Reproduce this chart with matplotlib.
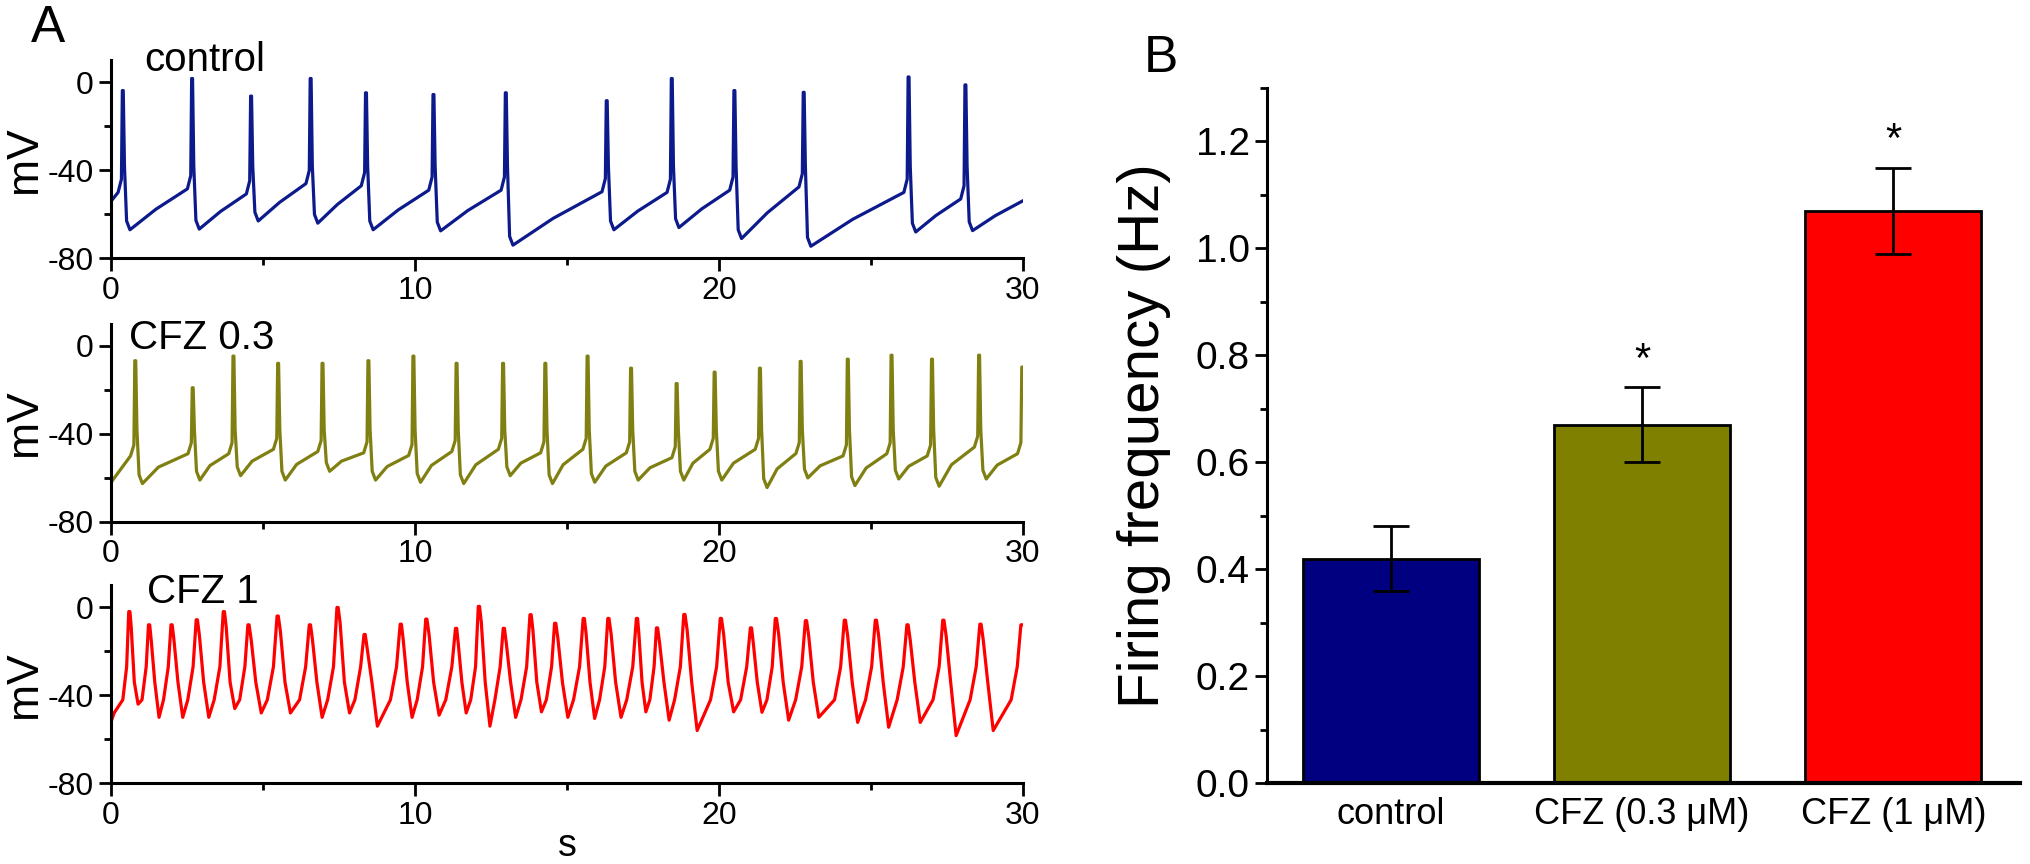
import numpy as np
import matplotlib
matplotlib.use("Agg")
import matplotlib.pyplot as plt
from matplotlib.ticker import MultipleLocator

plt.rcParams['font.family'] = ['Liberation Sans', 'DejaVu Sans']
plt.rcParams['axes.unicode_minus'] = False

# ---- panel A: membrane potential traces ----
# control: spike times (s), spike peaks, trough after each spike, base level before each spike (mV)
ctrl_t = [0.38, 2.66, 4.6, 6.56, 8.38, 10.6, 12.98, 16.3, 18.44, 20.5, 22.78, 26.23, 28.1]
ctrl_peak = [-3.7, 1.8, -6.2, 1.8, -4.7, -5.5, -4.7, -8.3, 1.8, -3.7, -4.5, 2.5, -1.1]
ctrl_trough = [-67, -66.7, -63, -64, -67, -67.5, -74, -67, -66, -71, -74.5, -68, -67.4]
ctrl_base = [-50, -48.4, -50.7, -46, -47, -49, -49, -49.7, -50, -49, -47.5, -50, -53]
ctrl_start, ctrl_end = -54, -53.8

# CFZ 0.3 uM
c03_t = [0.79, 2.68, 4.02, 5.49, 6.95, 8.46, 9.94, 11.36, 12.89, 14.28, 15.67,
         17.1, 18.6, 19.85, 21.34, 22.68, 24.23, 25.67, 27.0, 28.55, 29.97]
c03_peak = [-6.7, -19, -4.6, -7.9, -7.9, -6.7, -4.6, -7.9, -7.9, -7.9, -4.6,
            -10.1, -17.1, -11.9, -10.1, -7, -6, -4.2, -6, -4.2, -9.6]
c03_trough = [-62.6, -61, -59, -61, -57, -61, -62, -62.6, -59, -62.6, -62,
              -61, -61, -61, -64.4, -60, -63.5, -60.5, -63.8, -60.5]
c03_base = [-50, -49, -49, -47, -48, -48.6, -49.8, -48, -47, -48.6, -47,
            -48.6, -50.8, -47, -47, -48.9, -50, -49, -50, -46, -49]
c03_start = -62

# CFZ 1 uM
c1_t = [0.6, 1.25, 1.99, 2.82, 3.71, 4.52, 5.48, 6.54, 7.45, 8.34, 9.53, 10.37,
        11.35, 12.1, 12.92, 13.8, 14.61, 15.55, 16.36, 17.3, 17.96, 18.86, 20.06,
        21.05, 21.87, 22.86, 24.14, 25.16, 26.2, 27.38, 28.6, 29.95]
c1_peak = [-1.9, -7.9, -7.9, -5.6, -1.9, -7.9, -3.9, -7.9, 0, -12.3, -7.6, -5.3,
           -9.5, 0.5, -9.5, -3.3, -7.2, -5, -5, -5, -9.3, -3.2, -5, -9.3, -5,
           -6, -5.8, -5.8, -7.9, -5.8, -7.6, -7.9]
c1_trough = [-44, -50, -50, -50, -46, -48, -48, -50, -48, -54, -50, -49, -48, -54,
             -50, -47.5, -50, -50.5, -50, -47.5, -51.3, -56, -47.5, -47.7, -51.3,
             -50, -52.3, -54.5, -52.3, -58.3, -56]
c1_start = -52

# ---- panel B: firing frequency ----
groups = ['control', 'CFZ (0.3 \u03bcM)', 'CFZ (1 \u03bcM)']
freq = [0.42, 0.67, 1.07]
freq_err = [0.06, 0.07, 0.08]
signif = [False, True, True]
bar_colors = ['#000080', '#808000', '#ff0000']


def sharp_trace(t_spk, v_pk, v_tr, v_base, v_start, v_end=None, t_end=30.0,
                up=6.0, mid=(0.45, 0.5)):
    ts, vs = [0.0], [v_start]
    n = len(t_spk)
    for i in range(n):
        t, vb = t_spk[i], v_base[i]
        ts += [t - 0.15, t - 0.04, t - 0.01, t + 0.02]
        vs += [vb, vb + up, v_pk[i], v_pk[i]]
        if i < len(v_tr):
            vt = v_tr[i]
            ts += [t + 0.06, t + 0.13, t + 0.24]
            vs += [-38, vt + 4, vt]
            t0 = t + 0.24
            if i + 1 < n:
                t1, nb = t_spk[i + 1] - 0.15, v_base[i + 1]
            else:
                t1, nb = t_end, v_end
            ts.append(t0 + mid[0] * (t1 - t0))
            vs.append(vt + mid[1] * (nb - vt))
    if v_end is not None:
        ts.append(t_end)
        vs.append(v_end)
    return np.array(ts), np.array(vs)


def broad_trace(t_spk, v_pk, v_tr, v_start):
    ts, vs = [0.0, 0.1], [v_start, v_start + 4]
    n = len(t_spk)
    for i in range(n):
        t = t_spk[i]
        gap_prev = t - t_spk[i - 1] if i > 0 else 0.6
        sp = min(1.0, gap_prev / 0.95)
        ts += [t - 0.34 * sp, t - 0.14 * sp, t - 0.02, t + 0.02]
        vs += [-42, -27, v_pk[i], v_pk[i]]
        if i < len(v_tr):
            sn = min(1.0, (t_spk[i + 1] - t) / 0.95)
            ts += [t + 0.09 * sn, t + 0.24 * sn, t + 0.42 * sn]
            vs += [v_pk[i] - 7, -34, v_tr[i]]
    return np.array(ts), np.array(vs)


traces = [
    (sharp_trace(ctrl_t, ctrl_peak, ctrl_trough, ctrl_base, ctrl_start, ctrl_end,
                 up=6.0, mid=(0.45, 0.5)), '#0c1a8c', 'control', (1.1, 10)),
    (sharp_trace(c03_t, c03_peak, c03_trough, c03_base, c03_start, None,
                 up=5.0, mid=(0.35, 0.55)), '#7f7f12', 'CFZ 0.3', (0.58, 3.5)),
    (broad_trace(c1_t, c1_peak, c1_trough, c1_start), '#ff0000', 'CFZ 1', (1.18, 7)),
]

fig = plt.figure(figsize=(20.31, 8.64), dpi=100)
rects = [[0.0547, 0.701, 0.449, 0.229],
         [0.0547, 0.396, 0.449, 0.229],
         [0.0547, 0.0934, 0.449, 0.229]]

for k, ((tt, vv), col, name, pos) in enumerate(traces):
    ax = fig.add_axes(rects[k])
    ax.plot(tt, vv, color=col, lw=2.3)
    ax.set_xlim(0, 30)
    ax.set_ylim(-80, 10)
    for s in ['top', 'right']:
        ax.spines[s].set_visible(False)
    for s in ['left', 'bottom']:
        ax.spines[s].set_linewidth(2.2)
    ax.set_yticks([0, -40, -80])
    ax.yaxis.set_minor_locator(MultipleLocator(20))
    ax.set_xticks([0, 10, 20, 30])
    ax.xaxis.set_minor_locator(MultipleLocator(5))
    ax.tick_params(which='major', length=9, width=2, labelsize=23, direction='out')
    ax.tick_params(which='minor', length=5, width=2, direction='out')
    ax.set_ylabel('mV', fontsize=32)
    ax.yaxis.set_label_coords(-0.072, 0.5)
    ax.text(pos[0], pos[1], name, fontsize=29, va='center', ha='left')
    if k == 2:
        ax.set_xlabel('s', fontsize=27, labelpad=-2)

fig.text(0.0236, 0.967, 'A', fontsize=37, ha='center', va='center')

# ---- panel B ----
axb = fig.add_axes([0.624, 0.0934, 0.3705, 0.805])
x = np.arange(len(groups))
axb.bar(x, freq, width=0.7, color=bar_colors, edgecolor='black', linewidth=2)
axb.errorbar(x, freq, yerr=freq_err, fmt='none', ecolor='black', elinewidth=2,
             capsize=13, capthick=2)
for xi, f, e, sg in zip(x, freq, freq_err, signif):
    if sg:
        axb.text(xi, f + e + 0.05, '*', fontsize=30, ha='center', va='center')
axb.set_xlim(-0.491, 2.503)
axb.set_ylim(0, 1.3)
axb.set_xticks(x)
axb.set_xticklabels(groups, fontsize=26)
axb.tick_params(axis='x', length=0, pad=10)
axb.set_yticks(np.arange(0, 1.21, 0.2))
axb.yaxis.set_major_formatter(plt.FuncFormatter(lambda v, p: f'{v:.1f}'))
axb.yaxis.set_minor_locator(MultipleLocator(0.1))
axb.tick_params(axis='y', which='major', length=9, width=2, labelsize=28)
axb.tick_params(axis='y', which='minor', length=5, width=2)
for s in ['top', 'right']:
    axb.spines[s].set_visible(False)
axb.spines['left'].set_linewidth(2.2)
axb.spines['bottom'].set_linewidth(3)
axb.set_ylabel('Firing frequency (Hz)', fontsize=42)
axb.yaxis.set_label_coords(-0.128, 0.5)
fig.text(0.563, 0.932, 'B', fontsize=37, ha='left', va='center')

fig.savefig('out.png', dpi=100)
